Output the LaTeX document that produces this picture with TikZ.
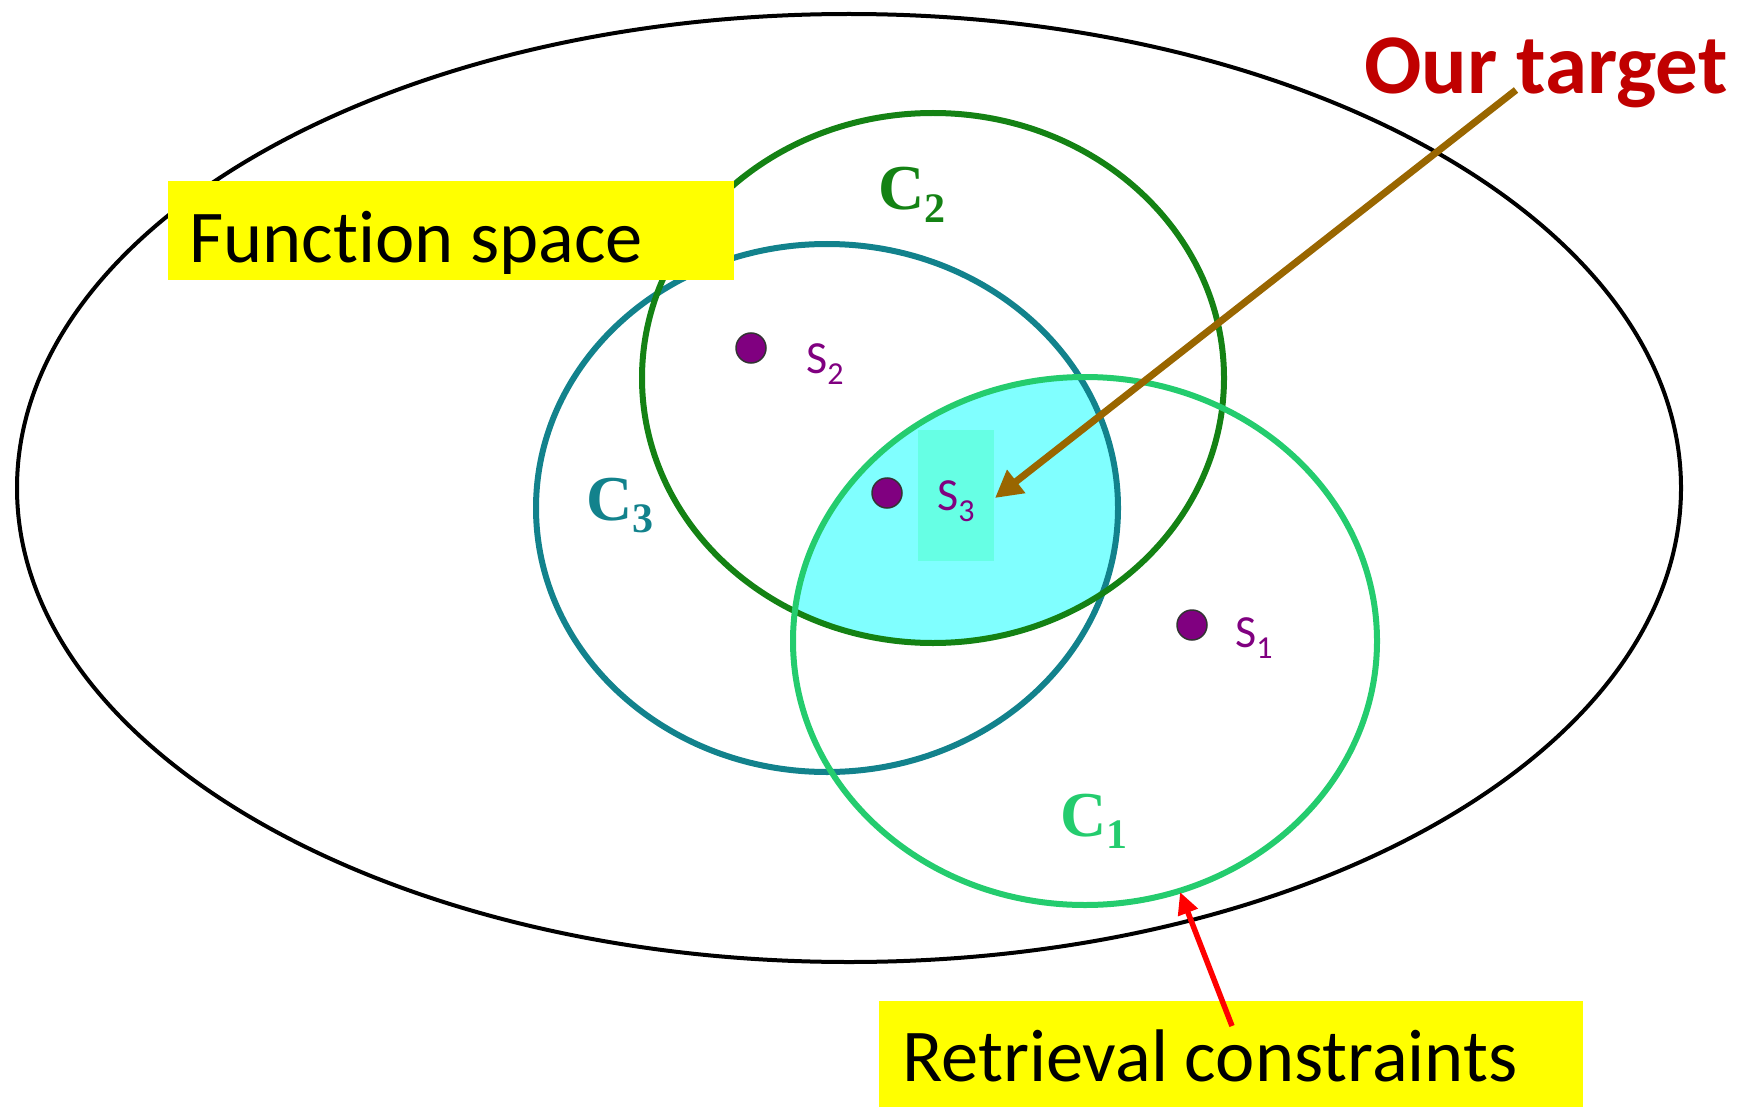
\documentclass[tikz,border=0pt]{standalone}
\usepackage{fontspec}
\setmainfont{Carlito}[Ligatures=NoCommon]
\newfontfamily\clabfont{Liberation Serif}
\usetikzlibrary{arrows.meta}
\definecolor{ctwo}{RGB}{20,130,20}
\definecolor{cthree}{RGB}{18,130,140}
\definecolor{cone}{RGB}{36,204,110}
\definecolor{cyanfill}{RGB}{128,255,255}
\definecolor{rectfill}{RGB}{102,255,228}
\definecolor{dotpurple}{RGB}{128,0,128}
\definecolor{arrbrown}{RGB}{153,102,0}
\definecolor{tgtred}{RGB}{192,0,0}
\definecolor{hilite}{RGB}{255,255,0}
\tikzset{
  setline/.style={line width=6pt},
  dotnode/.style={circle, fill=dotpurple, draw=black!80, line width=1.5pt, minimum size=30pt, inner sep=0pt},
  slabel/.style={text=dotpurple, anchor=base west, inner sep=0pt, font=\fontsize{46}{50}\selectfont},
  clabel/.style={anchor=base west, inner sep=0pt, font=\clabfont\bfseries\fontsize{64}{70}\selectfont},
  yellowbox/.style={fill=hilite, anchor=north west, inner sep=0pt, text=black},
}
\newcommand{\ssub}[1]{\raisebox{-0.26em}{\fontsize{32}{32}\selectfont #1}}
\newcommand{\csub}[1]{\raisebox{-0.2em}{\fontsize{42}{42}\selectfont #1}}
\begin{document}
\begin{tikzpicture}[x=1pt,y=-1pt]
\useasboundingbox (0,0) rectangle (1742,1107);
% outer ellipse
\draw[line width=4pt] (849,488) ellipse [x radius=832, y radius=474];
% intersection region
\begin{scope}
  \clip (1085,641) ellipse [x radius=292, y radius=264];
  \clip (933,378) ellipse [x radius=291, y radius=265];
  \fill[cyanfill] (827,508) ellipse [x radius=291, y radius=264];
\end{scope}
\fill[rectfill] (918,430) rectangle (994,561);
% circles
\draw[setline, draw=cthree] (827,508) ellipse [x radius=291, y radius=264];
\draw[setline, draw=ctwo] (933,378) ellipse [x radius=291, y radius=265];
\draw[setline, draw=cone] (1085,641) ellipse [x radius=292, y radius=264];
% C labels
\node[clabel, text=ctwo] (c2lab) at (878,210) {C\csub{2}};
\node[clabel, text=cthree] (c3lab) at (586,520) {C\csub{3}};
\node[clabel, text=cone] (c1lab) at (1060,836) {C\csub{1}};
% dots
\node[dotnode] (s2) at (751,348) {};
\node[dotnode] (s3) at (887,493) {};
\node[dotnode] (s1) at (1192,625) {};
\node[slabel] (s2lab) at (806,373) {S\ssub{2}};
\node[slabel] (s3lab) at (937,510) {S\ssub{3}};
\node[slabel] (s1lab) at (1235,647) {S\ssub{1}};
% yellow boxes
\node[yellowbox, minimum width=566pt, minimum height=99pt] (fsbox) at (168,181) {};
\node[anchor=base west, inner sep=0pt, font=\fontsize{74.5}{80}\selectfont] (fstext) at (189,262) {Function space};
\node[yellowbox, minimum width=704pt, minimum height=106pt] (rcbox) at (879,1001) {};
\node[anchor=base west, inner sep=0pt, font=\fontsize{74.5}{80}\selectfont] (rctext) at (902,1081) {Retrieval constraints};
% target text
\node[anchor=base west, inner sep=0pt, text=tgtred, font=\bfseries\fontsize{85}{90}\selectfont] (tgt) at (1364,94) {Our target};
% arrows
\coordinate (tgtstart) at (1516,90);
\coordinate (tgtend) at (995,498);
\draw[line width=7pt, arrbrown, -{Triangle[length=27pt,width=28pt]}] (tgtstart) -- (tgtend);
\coordinate (rcstart) at (1232,1026);
\coordinate (rcend) at (1180,892);
\draw[line width=5.5pt, red, -{Triangle[length=22pt,width=20pt]}] (rcstart) -- (rcend);
\end{tikzpicture}
\end{document}
